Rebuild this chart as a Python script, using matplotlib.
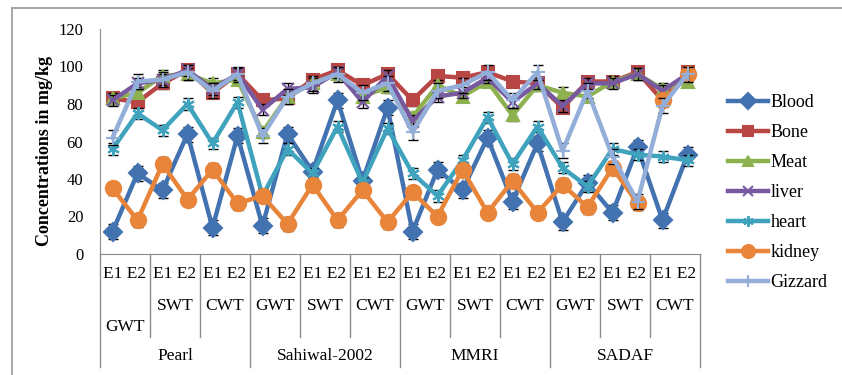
import matplotlib
matplotlib.use("Agg")
import matplotlib.pyplot as plt
from matplotlib.lines import Line2D
from matplotlib.transforms import blended_transform_factory

plt.rcParams['font.family'] = ['Liberation Serif', 'DejaVu Serif']

# categories
varieties = ["Pearl", "Sahiwal-2002", "MMRI", "SADAF"]
treatments = ["GWT", "SWT", "CWT"]
exposures = ["E1", "E2"]

# concentrations (mg/kg), one value per variety/treatment/exposure
blood = [12, 43, 34, 64, 14, 63, 15, 64, 44, 82, 39, 78,
         12, 45, 34, 62, 28, 59, 17, 38, 22, 57, 18, 53]
bone = [83, 81, 91, 98, 86, 96, 82, 83, 93, 98, 90, 96,
        82, 95, 94, 97, 92, 91, 78, 92, 92, 97, 82, 97]
meat = [83, 86, 95, 96, 91, 93, 65, 84, 91, 96, 84, 89,
        73, 90, 84, 92, 74, 90, 86, 84, 92, 96, 88, 92]
liver = [82, 91, 93, 98, 88, 96, 77, 88, 89, 97, 81, 95,
         71, 84, 86, 94, 81, 91, 79, 91, 91, 96, 87, 96]
heart = [56, 75, 66, 80, 59, 81, 31, 56, 43, 68, 38, 67,
         43, 31, 50, 73, 48, 68, 46, 36, 56, 53, 52, 50]
kidney = [35, 18, 48, 29, 45, 27, 31, 16, 37, 18, 34, 17,
          33, 20, 45, 22, 39, 22, 37, 25, 46, 27, 82, 96]
gizzard = [62, 92, 93, 97, 87, 96, 63, 84, 91, 96, 86, 91,
           65, 87, 90, 97, 82, 97, 55, 87, 52, 28, 79, 96]

# approximate error bar half-widths
errors = {"Blood": 4, "Bone": 3, "Meat": 3, "liver": 3,
          "heart": 3, "kidney": 3.5, "Gizzard": 4}

series = [
    ("Blood", blood, "#4372B0", "D", 9),
    ("Bone", bone, "#B84644", "s", 9),
    ("Meat", meat, "#8EB14F", "^", 9),
    ("liver", liver, "#77599F", "x", 9),
    ("heart", heart, "#40A3BE", (6, 2, 0), 9),
    ("kidney", kidney, "#E8853A", "o", 11),
    ("Gizzard", gizzard, "#93AED8", "+", 10),
]

fig = plt.figure(figsize=(8.42, 3.75), dpi=100)
ax = fig.add_axes([100 / 842, 1 - 254 / 375, 600 / 842, 225 / 375])

x = list(range(24))
handles = []
for i, (name, vals, col, mk, ms) in enumerate(series):
    ax.errorbar(x, vals, yerr=errors[name], fmt="none", ecolor="black",
                elinewidth=1, capsize=3.5, capthick=1, zorder=2 + 2 * i)
    if name == "kidney":
        ax.plot(x[:22], vals[:22], color=col, lw=3.2, zorder=3 + 2 * i)
        ax.plot(x[21:], vals[21:], color=col, lw=1.3, zorder=3 + 2 * i)
        ax.plot(x, vals, ls="none", marker=mk, ms=ms, color=col,
                mec=col, mew=1.5, zorder=3 + 2 * i)
    else:
        ax.plot(x, vals, color=col, lw=3.2, marker=mk, ms=ms,
                mec=col, mew=1.5, zorder=3 + 2 * i)
    handles.append(Line2D([], [], color=col, lw=3.2, marker=mk, ms=ms * 0.85,
                          mec=col, mew=1.5))

ax.set_xlim(-0.5, 23.5)
ax.set_ylim(0, 120)
ax.set_yticks(range(0, 121, 20))
ax.tick_params(axis="y", length=0, pad=12, labelsize=12)
ax.set_xticks([])
for s in ["top", "right"]:
    ax.spines[s].set_visible(False)
ax.spines["left"].set_color("#8C8C8C")
ax.spines["bottom"].set_color("#8C8C8C")
ax.set_ylabel("Concentrations in mg/kg", fontsize=13, fontweight="bold",
              labelpad=4)
ax.yaxis.set_label_coords(-0.078, 0.46)

# multi-level category axis
tr = blended_transform_factory(ax.transData, fig.transFigure)
grid = "#8C8C8C"
for k in range(13):
    xs = -0.5 + 2 * k
    bottom = 1 - 367 / 375 if k % 3 == 0 else 1 - 337 / 375
    ax.add_line(Line2D([xs, xs], [1 - 254 / 375, bottom], transform=tr,
                       color=grid, lw=1, clip_on=False))
for k in range(12):
    xc = 2 * k + 0.5
    ax.text(xc, 1 - 274 / 375, " ".join(exposures), transform=tr,
            ha="center", va="center", fontsize=12.5)
    ty = 1 - 327 / 375 if k == 0 else 1 - 306 / 375
    ax.text(xc, ty, treatments[k % 3], transform=tr,
            ha="center", va="center", fontsize=12.5)
for v, name in enumerate(varieties):
    ax.text(6 * v + 2.5, 1 - 356 / 375, name, transform=tr,
            ha="center", va="center", fontsize=12.5)

fig.legend(handles, [s[0] for s in series], loc="upper left",
           bbox_to_anchor=(728 / 842, 1 - 94 / 375), frameon=False,
           fontsize=13, handlelength=2.2, handletextpad=0.15,
           labelspacing=0.72, borderpad=0, borderaxespad=0)

# outer chart frame
fig.add_artist(Line2D([12 / 842, 12 / 842], [0, 1 - 8 / 375],
                      transform=fig.transFigure, color="#9A9A9A", lw=1.2))
fig.add_artist(Line2D([12 / 842, 1], [1 - 8 / 375, 1 - 8 / 375],
                      transform=fig.transFigure, color="#9A9A9A", lw=1.2))

fig.savefig("out.png", dpi=100)
